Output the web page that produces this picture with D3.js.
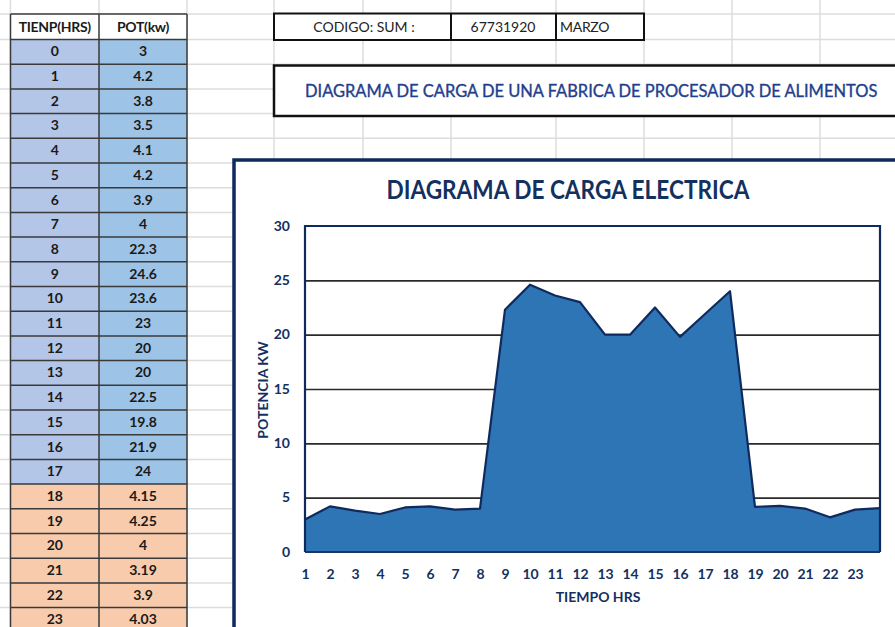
<!DOCTYPE html>
<html><head><meta charset="utf-8">
<script src="https://cdn.jsdelivr.net/npm/d3@7"></script>
<style>
html,body{margin:0;padding:0;background:#fff;}
svg{display:block;}
text{font-family:Lato,"Open Sans",sans-serif;}
</style></head>
<body>
<svg id="c" width="895" height="627"></svg>
<script>
// ---- data ----
const hours = [0,1,2,3,4,5,6,7,8,9,10,11,12,13,14,15,16,17,18,19,20,21,22,23];
const powerKw = [3,4.2,3.8,3.5,4.1,4.2,3.9,4,22.3,24.6,23.6,23,20,20,22.5,19.8,21.9,24,4.15,4.25,4,3.19,3.9,4.03];
const powerLabels = ["3","4.2","3.8","3.5","4.1","4.2","3.9","4","22.3","24.6","23.6","23","20","20","22.5","19.8","21.9","24","4.15","4.25","4","3.19","3.9","4.03"];
const xTickLabels = ["1","2","3","4","5","6","7","8","9","10","11","12","13","14","15","16","17","18","19","20","21","22","23"];
const yTicks = [0,5,10,15,20,25,30];
const tableHeaders = ["TIENP(HRS)","POT(kw)"];
const infoCells = ["CODIGO: SUM :","67731920","MARZO"];
const sheetTitle = "DIAGRAMA DE CARGA DE UNA FABRICA DE PROCESADOR DE ALIMENTOS";
const chartTitle = "DIAGRAMA DE CARGA ELECTRICA";
const yAxisTitle = "POTENCIA KW";
const xAxisTitle = "TIEMPO HRS";

const svg = d3.select("#c");
const W = 895, H = 627;
const navy = "#14305f";

// ---- spreadsheet grid ----
const headTop = 14, headBot = 39.5, rowH = 24.7;
const rowLines = [headTop, headBot];
for (let k = 1; k <= 25; k++) rowLines.push(headBot + k * rowH);
const colLines = [10.5, 99, 187, 274, 363, 451, 556, 644, 732, 820];
const grid = svg.append("g");
grid.selectAll("line.h").data(rowLines).join("line")
  .attr("x1", 0).attr("x2", W).attr("y1", d => d).attr("y2", d => d)
  .attr("stroke", "#dcdcdc").attr("stroke-width", 1.5);
grid.selectAll("line.v").data(colLines).join("line")
  .attr("x1", d => d).attr("x2", d => d).attr("y1", 0).attr("y2", H)
  .attr("stroke", "#dcdcdc").attr("stroke-width", 1.5);

// ---- data table ----
const tbl = svg.append("g");
const c0 = 10.5, c1 = 99, c2 = 187;
tbl.append("rect").attr("x", c0).attr("y", headTop).attr("width", c2 - c0).attr("height", headBot - headTop).attr("fill", "#fff");
hours.forEach((h, i) => {
  const y0 = headBot + i * rowH;
  const late = i >= 18;
  tbl.append("rect").attr("x", c0).attr("y", y0).attr("width", c1 - c0).attr("height", rowH)
    .attr("fill", late ? "#f8cbad" : "#b4c6e7");
  tbl.append("rect").attr("x", c1).attr("y", y0).attr("width", c2 - c1).attr("height", rowH)
    .attr("fill", late ? "#f8cbad" : "#9dc3e6");
  tbl.append("text").attr("x", (c0 + c1) / 2).attr("y", y0 + rowH / 2 + 4.5)
    .attr("text-anchor", "middle").attr("font-size", 14).attr("font-weight", 700).attr("fill", "#1a1a1a").text(h);
  tbl.append("text").attr("x", (c1 + c2) / 2).attr("y", y0 + rowH / 2 + 4.5)
    .attr("text-anchor", "middle").attr("font-size", 14).attr("font-weight", 700).attr("fill", "#1a1a1a").text(powerLabels[i]);
});
tableHeaders.forEach((t, j) => {
  tbl.append("text").attr("x", j === 0 ? (c0 + c1) / 2 : (c1 + c2) / 2).attr("y", 32)
    .attr("text-anchor", "middle").attr("font-size", 14).attr("font-weight", 700).attr("fill", "#1a1a1a")
    .attr("letter-spacing", -0.3).text(t);
});
// borders
const tLines = [headTop, headBot];
for (let k = 1; k <= 25; k++) tLines.push(headBot + k * rowH);
tbl.selectAll("line.th").data(tLines).join("line")
  .attr("x1", c0).attr("x2", c2).attr("y1", d => d).attr("y2", d => d)
  .attr("stroke", "#3a3a3a").attr("stroke-width", 1.5);
[c0, c1, c2].forEach(x => tbl.append("line").attr("x1", x).attr("x2", x).attr("y1", headTop).attr("y2", H)
  .attr("stroke", "#3a3a3a").attr("stroke-width", 1.5));

// ---- info cells ----
const info = svg.append("g");
const ic = [274, 451, 556, 644];
info.append("rect").attr("x", ic[0]).attr("y", 13.5).attr("width", ic[3] - ic[0]).attr("height", 26.5)
  .attr("fill", "#fff").attr("stroke", "#111").attr("stroke-width", 2);
[ic[1], ic[2]].forEach(x => info.append("line").attr("x1", x).attr("x2", x).attr("y1", 13.5).attr("y2", 40)
  .attr("stroke", "#111").attr("stroke-width", 2));
info.append("text").attr("x", 364).attr("y", 32).attr("text-anchor", "middle").attr("font-size", 14).attr("fill", "#222").text(infoCells[0]);
info.append("text").attr("x", 503).attr("y", 32).attr("text-anchor", "middle").attr("font-size", 14).attr("fill", "#222").text(infoCells[1]);
info.append("text").attr("x", 560).attr("y", 32).attr("text-anchor", "start").attr("font-size", 14).attr("fill", "#222").attr("letter-spacing", -0.3).text(infoCells[2]);

// title box
info.append("rect").attr("x", 274).attr("y", 65.5).attr("width", 700).attr("height", 50.5)
  .attr("fill", "#fff").attr("stroke", "#111").attr("stroke-width", 2.5);
const st = info.append("text").attr("x", 305).attr("y", 97).attr("font-size", 18).attr("fill", "#233f8c")
  .attr("stroke", "#233f8c").attr("stroke-width", 0.35).text(sheetTitle);
// fit the natural width to the reference span
const natural = st.node().getComputedTextLength();
if (natural > 573) st.attr("font-size", 18 * 573 / natural).attr("transform", `translate(0,0)`);
const nat2 = st.node().getComputedTextLength();
const fs = +st.attr("font-size");
// stretch vertically to keep cap height like the reference
st.attr("transform", `translate(305,97) scale(1,${18 / fs}) translate(-305,-97)`).attr("textLength", Math.min(573, nat2));

// ---- chart object ----
const ch = svg.append("g");
ch.append("rect").attr("x", 234).attr("y", 160).attr("width", 700).attr("height", 500)
  .attr("fill", "#fff").attr("stroke", "#0f2a5c").attr("stroke-width", 3.5);
ch.append("text").attr("x", 568).attr("y", 199).attr("text-anchor", "middle").attr("font-size", 26)
  .attr("font-weight", 700).attr("fill", navy).attr("textLength", 363).attr("lengthAdjust", "spacingAndGlyphs").text(chartTitle);

const L = 305, R = 880, T = 226, B = 552;
const x = d3.scalePoint().domain(hours).range([L, R]);
const y = d3.scaleLinear().domain([0, 30]).range([B, T]);

// gridlines
ch.append("g").attr("transform", `translate(${L},0)`)
  .call(d3.axisLeft(y).tickValues(yTicks.slice(1, -1)).tickSize(-(R - L)).tickFormat(""))
  .call(g => g.select(".domain").remove())
  .call(g => g.selectAll("line").attr("stroke", "#2a2a2a").attr("stroke-width", 1.6));

// area
const area = d3.area().x((d, i) => x(hours[i])).y0(y(0)).y1(d => y(d));
ch.append("path").datum(powerKw).attr("d", area).attr("fill", "#2e75b6");
const line = d3.line().x((d, i) => x(hours[i])).y(d => y(d));
ch.append("path").datum(powerKw).attr("d", line).attr("fill", "none").attr("stroke", "#0f2a5c").attr("stroke-width", 2.2).attr("stroke-linejoin", "round");

// plot border
ch.append("path").attr("d", `M${L},${B}V${T}H${R}V${B}`).attr("fill", "none").attr("stroke", "#0f2a5c").attr("stroke-width", 2.2);
ch.append("line").attr("x1", L).attr("x2", R).attr("y1", B).attr("y2", B).attr("stroke", "#1a3566").attr("stroke-width", 2);

// y axis labels
ch.append("g").attr("transform", `translate(${L - 12},0)`)
  .call(d3.axisLeft(y).tickValues(yTicks).tickSize(0))
  .call(g => g.select(".domain").remove())
  .call(g => g.selectAll("text").attr("font-family", "Lato, sans-serif").attr("font-size", 14).attr("font-weight", 700).attr("fill", navy).attr("dy", "0.3em"));

// x axis labels
ch.append("g").attr("transform", `translate(0,${B + 11})`)
  .call(d3.axisBottom(x).tickValues(hours.slice(0, xTickLabels.length)).tickSize(0).tickFormat((d, i) => xTickLabels[i]))
  .call(g => g.select(".domain").remove())
  .call(g => g.selectAll("text").attr("font-family", "Lato, sans-serif").attr("font-size", 14).attr("font-weight", 700).attr("fill", navy).attr("dy", "0.9em"));

// axis titles
ch.append("text").attr("x", 598).attr("y", 602).attr("text-anchor", "middle").attr("font-size", 14)
  .attr("font-weight", 700).attr("fill", navy).text(xAxisTitle);
ch.append("text").attr("transform", "translate(268,390) rotate(-90)").attr("text-anchor", "middle").attr("font-size", 14)
  .attr("font-weight", 700).attr("fill", navy).text(yAxisTitle);
</script>
</body></html>
